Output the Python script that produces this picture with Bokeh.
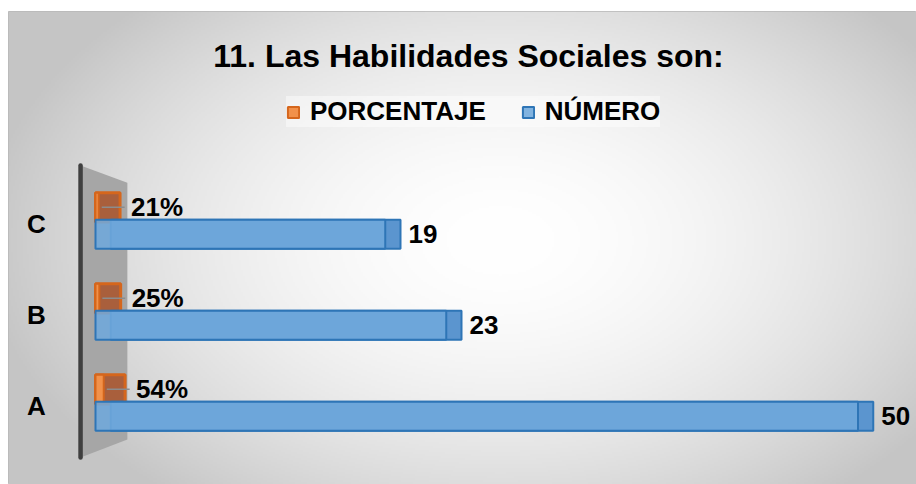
import numpy as np
from bokeh.plotting import figure
from bokeh.models import Range1d, Legend, LegendItem, Label
from bokeh.core.properties import value
from bokeh.embed import file_html
from bokeh.resources import INLINE

# ---------------- data ----------------
categories = ["A", "B", "C"]
porcentaje = [0.54, 0.25, 0.21]
numero = [50, 23, 19]
series_names = ["PORCENTAJE", "NÚMERO"]
title_text = "11. Las Habilidades Sociales son:"

# ---------------- layout / style ----------------
W, H = 916, 484
LEFT_GAP, TOP_GAP = 8, 11
FRAME_W, FRAME_H = W - LEFT_GAP, H - TOP_GAP
X0_PX = 87.0      # frame px where x = 0
XSCALE = 15.25    # px per unit
Y0_PX = 391.5     # frame px (from top) where first category sits
YSCALE = 91.0     # px per category
x_start = -X0_PX / XSCALE
x_end = (FRAME_W - X0_PX) / XSCALE
y_end = Y0_PX / YSCALE
y_start = -(FRAME_H - Y0_PX) / YSCALE

BAR_H = 0.32
BLUE_OFF = -0.145
ORANGE_OFF = 0.15
BLUE_D = 1.0
ORANGE_D = 1.4
FONT = "Liberation Sans"

ORANGE_LINE = "#D5661C"
ORANGE_FRONT = "#F2914A"
ORANGE_BACK = "#A95F3C"
BLUE_LINE = "#2E75B6"
BLUE_FRONT = "#6FA8DC"
BLUE_BACK = "#5B95CF"

p = figure(width=W, height=H, x_range=Range1d(x_start, x_end), y_range=Range1d(y_start, y_end),
           output_backend="svg", toolbar_location=None, x_axis_location=None, y_axis_location=None,
           min_border_left=LEFT_GAP, min_border_right=0, min_border_bottom=0, min_border_top=TOP_GAP,
           title=None)
p.grid.visible = False
p.border_fill_color = "white"
p.background_fill_color = "#E0E0E0"
p.outline_line_color = "#B8B8B8"

# ---------------- radial background ----------------
nx, ny = FRAME_W // 2, FRAME_H // 2
pxs = LEFT_GAP + (np.arange(nx) + 0.5) * (FRAME_W / nx)
pys = TOP_GAP + FRAME_H - (np.arange(ny) + 0.5) * (FRAME_H / ny)
X, Y = np.meshgrid(pxs, pys)
r = np.sqrt(((X - 500) / 520.0) ** 2 + ((Y - 240) / 330.0) ** 2)
g = (255 - 58 * np.clip(r, 0, 1) ** 1.8).astype(np.uint8)
img = np.empty((ny, nx), dtype=np.uint32)
view = img.view(dtype=np.uint8).reshape((ny, nx, 4))
view[..., 0] = g
view[..., 1] = g
view[..., 2] = g
view[..., 3] = 255
p.image_rgba(image=[img], x=x_start, y=y_start, dw=x_end - x_start, dh=y_end - y_start)

# ---------------- 3D wall ----------------
n = len(categories)
wall_l, wall_r = -0.98, 2.09
wall_xs = [wall_l, wall_r, wall_r, wall_l]
wall_ys = [n - 1 + 0.61, n - 1 + 0.42, -0.40, -0.60]
p.patch(wall_xs, wall_ys, fill_color="#A6A6A6", line_color=None)
p.line([wall_l, wall_l], [-0.60, n - 1 + 0.61], line_color="#3F3F3F", line_width=4.5, line_cap="round")

ypos = np.arange(n)
pct = np.array(porcentaje)
num = np.array(numero)
oy = ypos + ORANGE_OFF
by = ypos + BLUE_OFF

# orange series (3D box: body + front face)
p.quad(left=np.zeros(n), right=pct + ORANGE_D, bottom=oy - BAR_H / 2, top=oy + BAR_H / 2,
       fill_color=ORANGE_BACK, line_color=ORANGE_LINE, line_width=3)
r_or = p.quad(left=np.zeros(n), right=pct, bottom=oy - BAR_H / 2, top=oy + BAR_H / 2,
              fill_color=ORANGE_FRONT, line_color=ORANGE_LINE, line_width=2)
p.segment(x0=pct + 0.2, x1=pct + ORANGE_D + 0.3, y0=oy, y1=oy, line_color="#8C8C8C", line_width=1.5)

# blue series
p.quad(left=BLUE_D * np.ones(n), right=num + BLUE_D, bottom=by - BAR_H / 2, top=by + BAR_H / 2,
       fill_color=BLUE_BACK, line_color=BLUE_LINE, line_width=2)
r_bl = p.quad(left=np.zeros(n), right=num, bottom=by - BAR_H / 2, top=by + BAR_H / 2,
              fill_color=BLUE_FRONT, fill_alpha=0.88, line_color=BLUE_LINE, line_width=2)

# labels
p.text(x=pct + ORANGE_D, y=oy, text=[f"{round(v * 100)}%" for v in porcentaje], x_offset=11,
       text_font=value(FONT), text_font_style="bold", text_font_size="26px",
       text_baseline="middle", text_align="left", text_color="black")
p.text(x=num + BLUE_D, y=by, text=[str(v) for v in numero], x_offset=8,
       text_font=value(FONT), text_font_style="bold", text_font_size="26px",
       text_baseline="middle", text_align="left", text_color="black")
p.text(x=np.zeros(n), y=ypos, text=categories, x_offset=-59, y_offset=3,
       text_font=value(FONT), text_font_style="bold", text_font_size="26px",
       text_baseline="middle", text_align="center", text_color="black")

# title
p.add_layout(Label(x=460, y=429, x_units="screen", y_units="screen", text=title_text,
                   text_align="center", text_baseline="alphabetic", text_font=FONT,
                   text_font_style="bold", text_font_size="32px", text_color="black"))

legend = Legend(items=[LegendItem(label=series_names[0], renderers=[r_or]),
                       LegendItem(label=series_names[1], renderers=[r_bl])],
                orientation="horizontal", location=(278, 357),
                label_text_font=FONT, label_text_font_style="bold", label_text_font_size="26px",
                label_text_color="black",
                glyph_width=14, glyph_height=14, label_standoff=10, spacing=35, padding=10, margin=0,
                background_fill_color="white", background_fill_alpha=0.45, border_line_color=None)
p.add_layout(legend, "center")

open("out.html", "w").write(file_html(p, INLINE))
